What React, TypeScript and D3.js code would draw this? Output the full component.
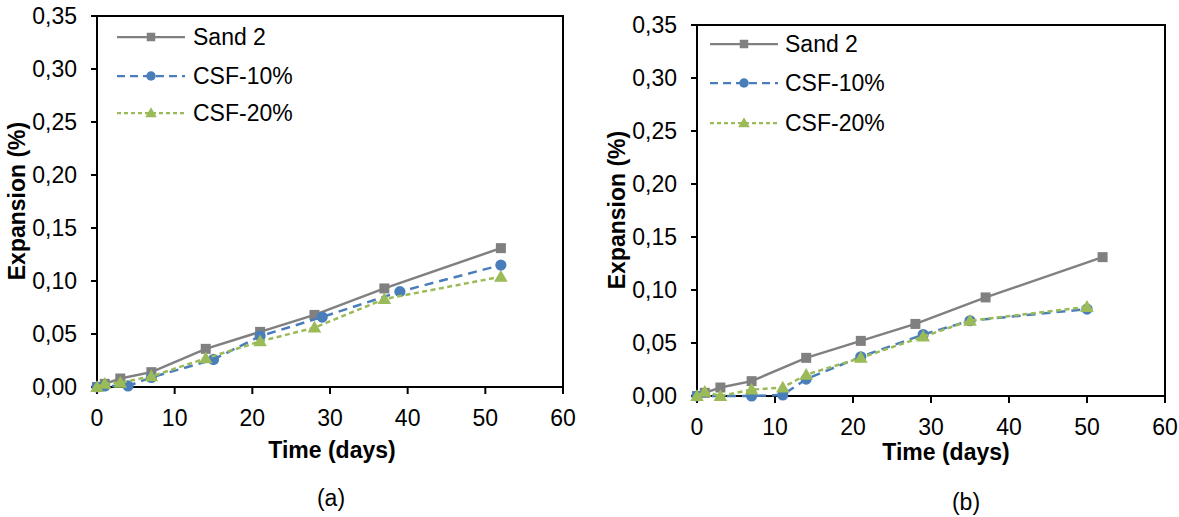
import React from 'react';
import * as d3 from 'd3';

// ---- data ----
const sand2Days = [0, 1, 3, 7, 14, 21, 28, 37, 52];
const sand2Values = [0, 0.003, 0.008, 0.014, 0.036, 0.052, 0.068, 0.093, 0.131];

const aCsf10Days = [0, 1, 4, 7, 15, 21, 29, 39, 52];
const aCsf10Values = [0, 0.001, 0.001, 0.009, 0.026, 0.048, 0.066, 0.09, 0.115];
const aCsf20Days = [0, 1, 3, 7, 14, 21, 28, 37, 52];
const aCsf20Values = [0, 0.003, 0.004, 0.01, 0.027, 0.043, 0.056, 0.083, 0.104];

const bCsf10Days = [0, 7, 11, 14, 21, 29, 35, 50];
const bCsf10Values = [0, 0, 0.001, 0.016, 0.037, 0.058, 0.071, 0.082];
const bCsf20Days = [0, 1, 3, 7, 11, 14, 21, 29, 35, 50];
const bCsf20Values = [0, 0.004, 0, 0.006, 0.008, 0.02, 0.036, 0.056, 0.071, 0.084];

const xTicks = [0, 10, 20, 30, 40, 50, 60];
const yTicks = [0, 0.05, 0.1, 0.15, 0.2, 0.25, 0.3, 0.35];
const seriesNames = ['Sand 2', 'CSF-10%', 'CSF-20%'];
const panelLabels = ['(a)', '(b)'];
const xTitle = 'Time (days)';
const yTitle = 'Expansion (%)';

const FONT = '"Liberation Sans", Arial, sans-serif';
const FS = 23;
const GRAY = '#808080';
const BLUE = '#4a7ebb';
const GREEN = '#9bbb59';

type Series = { days: number[]; values: number[] };

const styles = [
  { color: GRAY, dash: undefined as string | undefined, marker: 'square' },
  { color: BLUE, dash: '9,6', marker: 'circle' },
  { color: GREEN, dash: '5,3.5', marker: 'triangle' },
];

function Marker({ kind, x, y, color, small }: { kind: string; x: number; y: number; color: string; small?: boolean }) {
  const k = small ? 0.85 : 1;
  if (kind === 'square') {
    const s = 10 * k;
    return <rect x={x - s / 2} y={y - s / 2} width={s} height={s} fill={color} />;
  }
  if (kind === 'circle') return <circle cx={x} cy={y} r={5.6 * k} fill={color} />;
  const p = d3.symbol(d3.symbolTriangle, 80 * k * k)();
  return <path d={p || ''} transform={`translate(${x},${y + 1})`} fill={color} />;
}

function Panel(props: {
  left: number; right: number; top: number; bottom: number;
  series: Series[]; legendX0: number; legendX1: number; legendTextX: number; legendYs: number[];
  yTitleX: number; yTitleY: number; xTitleX: number; xTitleY: number; xTickY: number;
  label: string; labelX: number; labelY: number;
}) {
  const { left, right, top, bottom } = props;
  const x = d3.scaleLinear().domain([0, 60]).range([left, right]);
  const y = d3.scaleLinear().domain([0, 0.35]).range([bottom, top]);
  const fmt = (v: number) => d3.format('.2f')(v).replace('.', ',');
  return (
    <g>
      <rect x={left} y={top} width={right - left} height={bottom - top} fill="none" stroke="#000" strokeWidth={2} />
      {yTicks.map((t) => (
        <g key={'y' + t}>
          <line x1={left - 6} x2={left} y1={y(t)} y2={y(t)} stroke="#000" strokeWidth={2} />
          <text x={left - 20} y={y(t)} dy="0.35em" textAnchor="end" fontFamily={FONT} fontSize={FS} fill="#000">
            {fmt(t)}
          </text>
        </g>
      ))}
      {xTicks.map((t) => (
        <g key={'x' + t}>
          <line x1={x(t)} x2={x(t)} y1={bottom} y2={bottom + 7} stroke="#000" strokeWidth={2} />
          <text x={x(t)} y={props.xTickY} dy="0.35em" textAnchor="middle" fontFamily={FONT} fontSize={FS} fill="#000">
            {t}
          </text>
        </g>
      ))}
      {props.series.map((s, i) => {
        const st = styles[i];
        const pts: [number, number][] = s.days.map((d, j) => [x(d), y(s.values[j])]);
        const line = d3.line()(pts) || '';
        return (
          <g key={'s' + i}>
            <path d={line} fill="none" stroke={st.color} strokeWidth={2.5} strokeDasharray={st.dash} />
            {pts.map((p, j) => (
              <Marker key={j} kind={st.marker} x={p[0]} y={p[1]} color={st.color} />
            ))}
          </g>
        );
      })}
      {seriesNames.map((n, i) => {
        const st = styles[i];
        const ly = props.legendYs[i];
        const mx = (props.legendX0 + props.legendX1) / 2;
        return (
          <g key={'l' + i}>
            <line x1={props.legendX0} x2={props.legendX1} y1={ly} y2={ly} stroke={st.color} strokeWidth={2.25} strokeDasharray={i === 1 ? '8,5' : i === 2 ? '4,3' : undefined} />
            <Marker kind={st.marker} x={mx} y={ly} color={st.color} small />
            <text x={props.legendTextX} y={ly} dy="0.35em" fontFamily={FONT} fontSize={FS} fill="#000">
              {n}
            </text>
          </g>
        );
      })}
      <text
        transform={`translate(${props.yTitleX},${props.yTitleY}) rotate(-90)`}
        dy="0.35em"
        textAnchor="middle"
        fontFamily={FONT}
        fontSize={FS}
        fontWeight="bold"
        fill="#000"
      >
        {yTitle}
      </text>
      <text x={props.xTitleX} y={props.xTitleY} dy="0.35em" textAnchor="middle" fontFamily={FONT} fontSize={FS} fontWeight="bold" fill="#000">
        {xTitle}
      </text>
      <text x={props.labelX} y={props.labelY} dy="0.35em" textAnchor="middle" fontFamily={FONT} fontSize={FS} fill="#000">
        {props.label}
      </text>
    </g>
  );
}

export default function App() {
  const seriesA: Series[] = [
    { days: sand2Days, values: sand2Values },
    { days: aCsf10Days, values: aCsf10Values },
    { days: aCsf20Days, values: aCsf20Values },
  ];
  const seriesB: Series[] = [
    { days: sand2Days, values: sand2Values },
    { days: bCsf10Days, values: bCsf10Values },
    { days: bCsf20Days, values: bCsf20Values },
  ];
  return (
    <svg width={1179} height={517} style={{ position: 'absolute', left: 0, top: 0, background: '#fff' }}>
      <rect x={0} y={0} width={1179} height={517} fill="#fff" />
      <Panel
        left={97} right={563} top={16} bottom={387}
        series={seriesA}
        legendX0={117} legendX1={185} legendTextX={193} legendYs={[37, 76, 113]}
        yTitleX={17} yTitleY={201} xTitleX={332} xTitleY={450} xTickY={418}
        label={panelLabels[0]} labelX={331} labelY={498}
      />
      <Panel
        left={697} right={1165} top={25} bottom={396}
        series={seriesB}
        legendX0={710} legendX1={778} legendTextX={785} legendYs={[44, 83, 123]}
        yTitleX={617} yTitleY={210} xTitleX={946} xTitleY={452} xTickY={427}
        label={panelLabels[1]} labelX={966} labelY={502}
      />
    </svg>
  );
}
